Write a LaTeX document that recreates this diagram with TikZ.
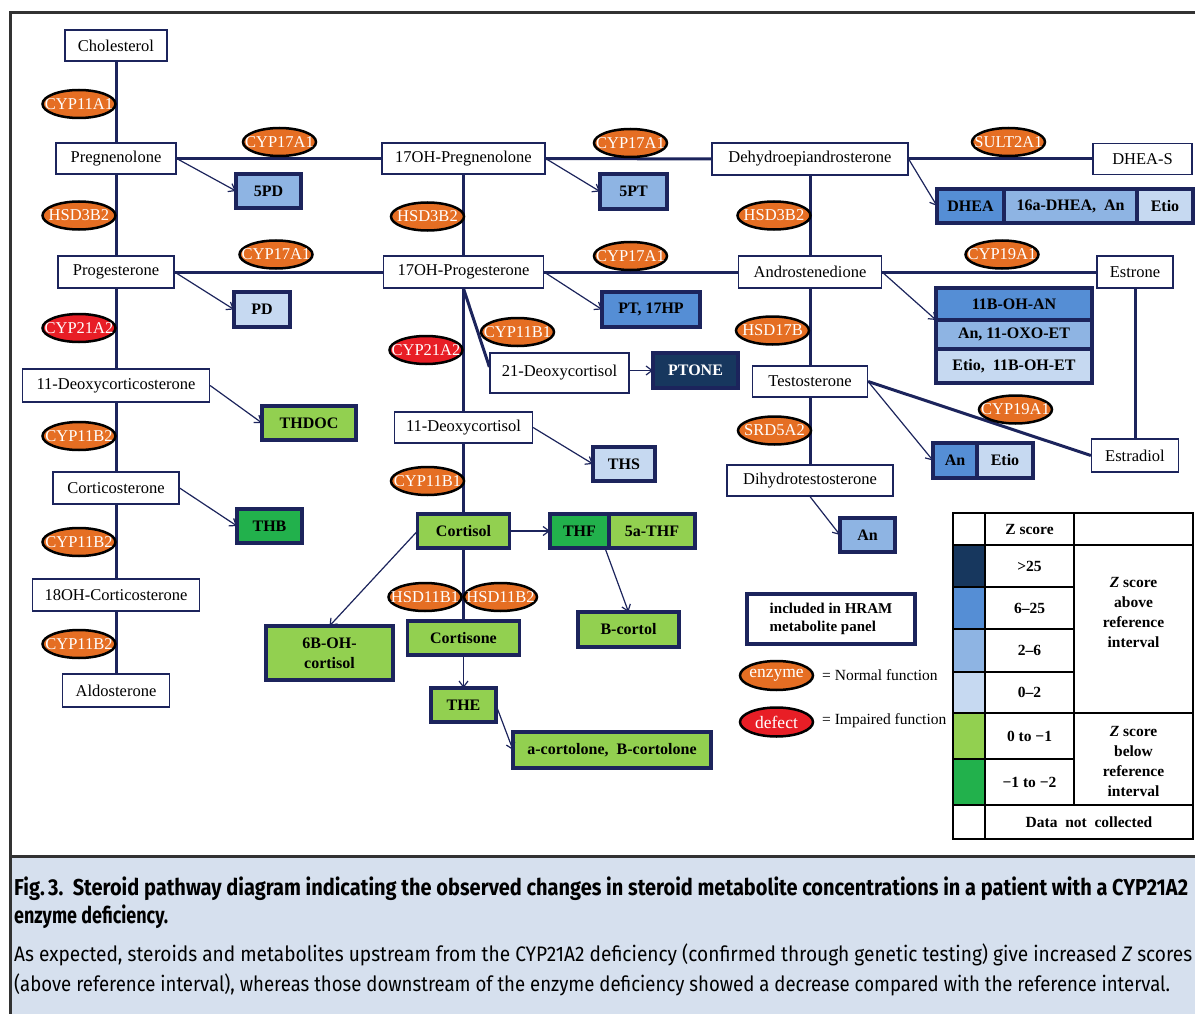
\documentclass[tikz,border=0pt]{standalone}
\usepackage{fontspec}
\setmainfont{Liberation Serif}
\newfontfamily\capfont{Fira Sans}
\usepackage{graphicx}
\usetikzlibrary{positioning, shapes.geometric, arrows.meta}

\definecolor{pathblue}{RGB}{28,36,92}
\definecolor{enzorange}{RGB}{229,110,35}
\definecolor{enzred}{RGB}{232,30,38}
\definecolor{zhigh}{RGB}{23,55,94}
\definecolor{zmidhigh}{RGB}{85,142,213}
\definecolor{zmid}{RGB}{142,180,227}
\definecolor{zlow}{RGB}{198,217,241}
\definecolor{zneg}{RGB}{146,208,80}
\definecolor{zneglow}{RGB}{34,177,76}
\definecolor{capfill}{RGB}{214,224,238}
\definecolor{framegray}{RGB}{50,50,50}

\newsavebox\enzbox

\begin{document}
\begin{tikzpicture}[x=1pt, y=-1pt,
		stepnode/.style={draw=pathblue, line width=1.2pt, fill=white, minimum height=31pt, inner sep=2pt, font=\fontsize{16.5}{18}\selectfont},
		metabnode/.style={draw=pathblue, line width=3.2pt, minimum height=34pt, inner sep=2pt, outer sep=0pt, font=\fontsize{16}{20}\selectfont\bfseries},
		enzymenode/.style={ellipse, draw=black, line width=2.5pt, fill=enzorange, text=white, minimum width=73pt, minimum height=28pt, inner sep=0pt, font=\fontsize{16.5}{18}\selectfont,
				execute at begin node={\setbox\enzbox\hbox\bgroup}, execute at end node={\egroup\hbox to 0pt{\hss\box\enzbox\hss}}},
		defectnode/.style={enzymenode, fill=enzred},
		pathline/.style={draw=pathblue, line width=3pt},
		metabarrow/.style={draw=pathblue, line width=1.2pt, -{Straight Barb[length=6pt, width=9pt]}},
		tabletext/.style={font=\fontsize{15.5}{20}\selectfont\bfseries, align=center, inner sep=0pt},
		captext/.style={anchor=base west, inner sep=0pt}
	]

	\useasboundingbox (0,0) rectangle (1195,1014);
	\clip (0,0) rectangle (1195,1014);

	% frame and caption panel
	\fill[capfill] (10,856) rectangle (1200,1020);
	\draw[framegray, line width=3pt] (10,13) rectangle (1200,1020);
	\draw[framegray, line width=3pt] (10,856) -- (1200,856);

	% steroids, left column
	\node[stepnode, minimum width=102pt] (chol) at (116,45.5) {Cholesterol};
	\node[stepnode, minimum width=120pt] (preg) at (116,158.5) {Pregnenolone};
	\node[stepnode, minimum width=116pt, minimum height=32pt] (prog) at (116,272) {Progesterone};
	\node[stepnode, minimum width=187pt, minimum height=33pt] (doc) at (116,385.5) {11-Deoxycorticosterone};
	\node[stepnode, minimum width=126pt, minimum height=32pt] (cortico) at (116,488) {Corticosterone};
	\node[stepnode, minimum width=167pt, minimum height=32pt] (ohcortico) at (116,595) {18OH-Corticosterone};
	\node[stepnode, minimum width=107pt, minimum height=33pt] (aldo) at (116,690.5) {Aldosterone};

	% steroids, middle column
	\node[stepnode, minimum width=163pt] (ohpreg) at (463.5,158.5) {17OH-Pregnenolone};
	\node[stepnode, minimum width=160pt, minimum height=32pt] (ohprog) at (463.5,272) {17OH-Progesterone};
	\node[stepnode, minimum width=139pt, minimum height=40pt] (docortisol21) at (559.5,373) {21-Deoxycortisol};
	\node[stepnode, minimum width=138pt] (docortisol) at (463.5,427.5) {11-Deoxycortisol};

	% steroids, right column
	\node[stepnode, minimum width=196pt, minimum height=32pt] (dhea) at (810,159) {Dehydroepiandrosterone};
	\node[stepnode, minimum width=99pt] (dheas) at (1142.5,159) {DHEA-S};
	\node[stepnode, minimum width=143pt, minimum height=32pt] (andro) at (810,272) {Androstenedione};
	\node[stepnode, minimum width=76pt, minimum height=32pt] (estrone) at (1135,272) {Estrone};
	\node[stepnode, minimum width=115pt] (testo) at (810,381.5) {Testosterone};
	\node[stepnode, minimum width=87pt, minimum height=33pt] (estradiol) at (1135,455.5) {Estradiol};
	\node[stepnode, minimum width=166pt] (dht) at (810,480.5) {Dihydrotestosterone};

	% measured metabolites
	\node[metabnode, fill=zmid, minimum width=65pt] (pdfive) at (268.5,191) {5PD};
	\node[metabnode, fill=zlow, minimum width=56pt, minimum height=35pt] (pd) at (262,309.5) {PD};
	\node[metabnode, fill=zneg, minimum width=94pt] (thdoc) at (309,423) {THDOC};
	\node[metabnode, fill=zneglow, minimum width=65pt] (thb) at (269.5,526) {THB};

	\node[metabnode, fill=zmid, minimum width=67pt, minimum height=35pt] (ptfive) at (633.5,191.5) {5PT};
	\node[metabnode, fill=zmidhigh, minimum width=98pt, minimum height=35pt] (pthp) at (651,309.5) {PT, 17HP};
	\node[metabnode, fill=zhigh, text=white, minimum width=85pt, minimum height=35pt] (ptone) at (695.5,370.5) {PTONE};
	\node[metabnode, fill=zlow, minimum width=62pt] (ths) at (624,464) {THS};
	\node[metabnode, fill=zneg, minimum width=92pt] (cortisol) at (463.5,531) {Cortisol};
	\node[metabnode, fill=zneglow, minimum width=59pt] (thf) at (579.5,531) {THF};
	\node[metabnode, fill=zneg, minimum width=86pt, right=0pt of thf] (thffive) {5a-THF};
	\node[metabnode, fill=zneg, minimum width=127pt, minimum height=54pt, align=center] (ohcortisol) at (329.5,653) {6B-OH-\\cortisol};
	\node[metabnode, fill=zneg, minimum width=112pt] (cortisone) at (463.5,638) {Cortisone};
	\node[metabnode, fill=zneg, minimum width=101pt, minimum height=35pt] (bcortol) at (628.5,629.5) {B-cortol};
	\node[metabnode, fill=zneg, minimum width=65pt] (the) at (463.5,705) {THE};
	\node[metabnode, fill=zneg, minimum width=198pt, minimum height=36pt] (cortolone) at (612,750) {a-cortolone,\ \ B-cortolone};

	\node[metabnode, fill=zmidhigh, minimum width=67pt] (dheabox) at (970.5,206) {DHEA};
	\node[metabnode, fill=zmid, minimum width=133pt, right=0pt of dheabox] (dheasixteen) {16a-DHEA,\ \ An};
	\node[metabnode, fill=zlow, minimum width=56pt, right=0pt of dheasixteen] (etiodhea) {Etio};
	\node[metabnode, fill=zmidhigh, minimum width=156pt, minimum height=32pt] (ohan) at (1014,304) {11B-OH-AN};
	\node[metabnode, fill=zmid, minimum width=156pt, minimum height=29pt, below=0pt of ohan] (oxoet) {An, 11-OXO-ET};
	\node[metabnode, fill=zlow, minimum width=156pt, minimum height=34pt, below=0pt of oxoet] (ohet) {Etio,\ \ 11B-OH-ET};
	\node[metabnode, fill=zmidhigh, minimum width=44pt, minimum height=35pt] (antesto) at (955,460.5) {An};
	\node[metabnode, fill=zlow, minimum width=56pt, minimum height=35pt, right=0pt of antesto] (etiotesto) {Etio};
	\node[metabnode, fill=zmid, minimum width=55pt] (andht) at (867.5,535) {An};

	% pathway lines
	\foreach \a/\b in {chol/preg, preg/prog, prog/doc, doc/cortico, cortico/ohcortico, ohcortico/aldo,
			ohpreg/ohprog, ohprog/docortisol, docortisol/cortisol, cortisol/cortisone,
			dhea/andro, andro/testo, testo/dht,
			preg/ohpreg, ohpreg/dhea, dhea/dheas, prog/ohprog, ohprog/andro, andro/estrone, estrone/estradiol} {
			\draw[pathline] (\a) -- (\b);
		}
	\draw[pathline] (ohprog.south) -- ([yshift=6pt]docortisol21.west);
	\draw[pathline] (testo.east) -- (estradiol.west);

	% metabolite arrows
	\draw[metabarrow] (preg.east) -- (pdfive.west);
	\draw[metabarrow] (prog.east) -- (pd.west);
	\draw[metabarrow] (doc.east) -- (thdoc.west);
	\draw[metabarrow] (cortico.east) -- (thb.west);
	\draw[metabarrow] (ohpreg.east) -- (ptfive.west);
	\draw[metabarrow] (ohprog.east) -- (pthp.west);
	\draw[metabarrow] (docortisol21.east |- ptone.west) -- (ptone.west);
	\draw[metabarrow] (docortisol.east) -- (ths.west);
	\draw[metabarrow] (cortisol.east) -- (thf.west);
	\draw[metabarrow] (cortisol.west) -- (ohcortisol.north);
	\draw[metabarrow] ([xshift=-4pt]thf.south east) -- (bcortol.north);
	\draw[metabarrow] (cortisone) -- (the);
	\draw[metabarrow] (the.east) -- (cortolone.west);
	\draw[metabarrow] (dhea.east) -- (dheabox.west);
	\draw[metabarrow] (andro.east) -- (ohan.south west);
	\draw[metabarrow] (testo.east) -- (antesto.west);
	\draw[metabarrow] (dht.south) -- (andht.west);

	% enzymes
	\node[enzymenode] (cyp11a1) at (79,104) {CYP11A1};
	\node[enzymenode] (hsd3b2-1) at (79,215.5) {HSD3B2};
	\node[defectnode] (cyp21a2-1) at (79,328) {CYP21A2};
	\foreach \y [count=\i] in {436, 542, 644} {
			\node[enzymenode] (cyp11b2-\i) at (79,\y) {CYP11B2};
		}
	\node[enzymenode] (cyp17a1-1) at (279.5,142) {CYP17A1};
	\node[enzymenode] (cyp17a1-2) at (276,254.5) {CYP17A1};
	\node[enzymenode] (cyp17a1-3) at (630.5,143) {CYP17A1};
	\node[enzymenode] (cyp17a1-4) at (630.5,256) {CYP17A1};
	\node[enzymenode] (hsd3b2-2) at (427.5,216.5) {HSD3B2};
	\node[enzymenode] (cyp11b1-1) at (517.5,332) {CYP11B1};
	\node[defectnode] (cyp21a2-2) at (426,350) {CYP21A2};
	\node[enzymenode] (cyp11b1-2) at (427.5,481) {CYP11B1};
	\node[enzymenode] (hsd11b1) at (425,597) {HSD11B1};
	\node[enzymenode] (hsd11b2) at (500.5,597) {HSD11B2};
	\node[enzymenode] (sult2a1) at (1008.5,142) {SULT2A1};
	\node[enzymenode] (hsd3b2-3) at (774,215.5) {HSD3B2};
	\node[enzymenode] (cyp19a1-1) at (1002,254.5) {CYP19A1};
	\node[enzymenode] (hsd17b) at (772.5,330.5) {HSD17B};
	\node[enzymenode] (cyp19a1-2) at (1015.5,409.5) {CYP19A1};
	\node[enzymenode] (srd5a2) at (774.5,430.5) {SRD5A2};

	% legend
	\node[metabnode, fill=white, minimum width=168pt, minimum height=50pt, align=left, font=\fontsize{15}{18}\selectfont\bfseries] (panel) at (831,619) {included in HRAM\\metabolite panel};
	\node[enzymenode, minimum height=29pt, font=\fontsize{17.5}{19}\selectfont] (normal) at (776.5,675.5) {enzyme};
	\node[defectnode, minimum height=29pt, font=\fontsize{17.5}{19}\selectfont] (impaired) at (776.5,722) {defect};
	\node[anchor=west, inner sep=0pt, font=\fontsize{15.5}{17}\selectfont] (normaltext) at (822,675) {= Normal function};
	\node[anchor=west, inner sep=0pt, font=\fontsize{15.5}{17}\selectfont] (impairedtext) at (822,721) {= Impaired function};

	% Z score table
	\fill[zhigh] (953,545) rectangle (985,587);
	\fill[zmidhigh] (953,587) rectangle (985,629);
	\fill[zmid] (953,629) rectangle (985,672);
	\fill[zlow] (953,672) rectangle (985,713);
	\fill[zneg] (953,713) rectangle (985,759);
	\fill[zneglow] (953,759) rectangle (985,805);
	\draw[line width=1.5pt] (953,513) rectangle (1193,839);
	\draw[line width=1.5pt] (985,513) -- (985,839);
	\draw[line width=1.5pt] (1074,513) -- (1074,805);
	\foreach \y in {545, 713, 805} {
			\draw[line width=1.5pt] (953,\y) -- (1193,\y);
		}
	\foreach \y in {587, 629, 672, 759} {
			\draw[line width=1.5pt] (953,\y) -- (1074,\y);
		}
	\node[tabletext] (zhead) at (1029.5,529) {Z score};
	\node[tabletext] (zone) at (1029.5,566) {>25};
	\node[tabletext] (ztwo) at (1029.5,608) {6–25};
	\node[tabletext] (zthree) at (1029.5,650.5) {2–6};
	\node[tabletext] (zfour) at (1029.5,692.5) {0–2};
	\node[tabletext] (zfive) at (1029.5,736) {0 to −1};
	\node[tabletext] (zsix) at (1029.5,782) {−1 to −2};
	\node[tabletext] (zabove) at (1133.5,612) {\textit{Z} score\\above\\reference\\interval};
	\node[tabletext] (zbelow) at (1133.5,761) {\textit{Z} score\\below\\reference\\interval};
	\node[tabletext] (nodata) at (1089,822) {Data\ \ not\ \ collected};

	% caption
	\node[captext, font=\capfont\bfseries\fontsize{23}{26}\selectfont] (captitle) at (14,895)
		{\resizebox{1174pt}{\height}{Fig.\,3.\ \ Steroid pathway diagram indicating the observed changes in steroid metabolite concentrations in a patient with a CYP21A2}};
	\node[captext, font=\capfont\bfseries\fontsize{23}{26}\selectfont] (captitletwo) at (14,923)
		{\resizebox{154pt}{\height}{enzyme deficiency.}};
	\node[captext, font=\capfont\fontsize{21}{24}\selectfont] (capbody) at (14,961)
		{\resizebox{1178pt}{\height}{As expected, steroids and metabolites upstream from the CYP21A2 deficiency (confirmed through genetic testing) give increased \textit{Z} scores}};
	\node[captext, font=\capfont\fontsize{21}{24}\selectfont] (capbodytwo) at (14,991)
		{\resizebox{1156pt}{\height}{(above reference interval), whereas those downstream of the enzyme deficiency showed a decrease compared with the reference interval.}};

\end{tikzpicture}
\end{document}
